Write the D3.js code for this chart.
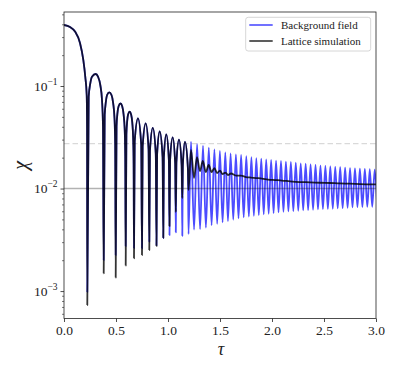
<!DOCTYPE html>
<html><head><meta charset="utf-8">
<script src="https://cdn.jsdelivr.net/npm/d3@7"></script>
<style>body{margin:0;background:#fff}svg{display:block}text{font-family:"Liberation Serif","DejaVu Serif",serif;fill:#222}</style>
</head><body><svg id="c" width="397" height="370"></svg>
<script>
// ---- data ----
const xTicks = [0, 0.5, 1.0, 1.5, 2.0, 2.5, 3.0];
const yMajorTicks = [1e-3, 1e-2, 1e-1];
const yMinorTicks = [6e-4,7e-4,8e-4,9e-4,2e-3,3e-3,4e-3,5e-3,6e-3,7e-3,8e-3,9e-3,2e-2,3e-2,4e-2,5e-2,6e-2,7e-2,8e-2,9e-2,2e-1,3e-1,4e-1,5e-1];
const seriesNames = ["Background field", "Lattice simulation"];
const refSolid = 1e-2;
const refDashed = 0.0274;

// early part, common to both series (start, arch shoulders, peaks)
const earlyTau = [0,0.0577,0.1058,0.1538,0.1856,0.2048,0.2183,0.2221,
0.2375,0.2529,0.2692,0.3048,0.3269,0.3490,0.3654,0.3750,
0.3913,0.4029,0.4144,0.4356,0.4567,0.4731,0.4856,0.4923,
0.5053,0.5144,0.5250,0.5433,0.5596,0.5731,0.5837,0.5889,
0.6000,0.6077,0.6163,0.6317,0.6452,0.6567,0.6648,0.6697,
0.6798,0.7115,0.7423, 0.7563,0.7856,0.8132, 0.8264,0.8538,0.8825,
0.8952,0.9202,0.9481, 0.9602,0.9837,1.0085, 1.0199,1.0452,1.0689,
1.0808,1.1058,1.1313, 1.1429,1.1635,1.1912];
const earlyChi = [0.3937,0.3764,0.3401,0.2627,0.1794,0.1224,0.0817,0.0372,
0.0786,0.1063,0.1232,0.1310,0.1232,0.1023,0.0730,0.0401,
0.0521,0.0705,0.0817,0.0868,0.0817,0.0678,0.0484,0.02657,
0.0405,0.0548,0.0635,0.0675,0.0635,0.0527,0.0376,0.02066,
0.0337,0.0456,0.0528,0.0562,0.0528,0.0439,0.0313,0.01718,
0.02887,0.04842,0.0270, 0.0258,0.04326,0.02413, 0.02332,0.0391,0.0218,
0.02146,0.03598,0.02006, 0.02006,0.03364,0.01876, 0.01884,0.03159,0.01762,
0.01785,0.02993,0.01669, 0.01703,0.02855,0.01592];

// early troughs
const troughTau = [0.2240,0.3817,0.4971,0.5933,0.6731,0.7500,0.8202,0.8894,0.9548,1.0144,1.0750,1.1375,1.1971];
const blackTroughChi = [0.00073,0.001488,0.001354,0.001773,0.002084,0.002245,0.002512,0.002748,0.003311,0.004307,0.005897,0.008078,0.009669];
const blueTroughChi = [0.00098,0.002006,0.002245,0.002748,0.002627,0.00261,0.003027,0.0028,0.00329,0.003518,0.003738,0.003464,0.003598];

// background field, late oscillation: peaks and troughs
const bluePeakTau = [1.2212,1.2798,1.3365,1.3923,1.4462,1.4990,1.5510,1.6019,1.6529,1.7029,1.7529,1.8019,1.8493,1.8967,1.9442,1.9916,2.0390,2.0864,2.1338,2.1813,2.2287,2.2762,2.3236,2.3710,2.4185,2.4659,2.5133,2.5607,2.6081,2.6556,2.7030,2.7504,2.7978,2.8452,2.8927,2.9401,2.9875];
const bluePeakChi = [0.02862,0.02718,0.02616,0.0250,0.02413,0.02322,0.02255,0.02205,0.02157,0.02123,0.02075,0.02029,0.01984,0.01953,0.01927,0.01897,0.01867,0.01855,0.01826,0.01814,0.01785,0.01762,0.01746,0.01722,0.01696,0.01673,0.01658,0.01643,0.01628,0.01614,0.01599,0.01585,0.01574,0.01564,0.01553,0.01543,0.01532];
const blueValleyTau = [1.2505,1.3082,1.3644,1.4192,1.4726,1.5250,1.5765,1.6274,1.6779,1.7279,1.7774,1.8256,1.8730,1.9205,1.9679,2.0153,2.0627,2.1101,2.1576,2.2050,2.2524,2.2999,2.3473,2.3947,2.4422,2.4896,2.5370,2.5844,2.6318,2.6793,2.7267,2.7741,2.8215,2.8690,2.9164,2.9638,3.0112];
const blueValleyChi = [0.003981,0.004026,0.004164,0.004404,0.004524,0.004679,0.004818,0.004961,0.005121,0.005236,0.00532,0.005428,0.005515,0.005602,0.005677,0.005768,0.005859,0.005939,0.005993,0.006033,0.006074,0.006129,0.00617,0.006212,0.006268,0.00631,0.006324,0.006352,0.00641,0.006452,0.006496,0.006554,0.006584,0.006599,0.00663,0.006645,0.00666];

// lattice simulation, late part
const blackLateTau = [1.2212,1.25,1.2788,1.3077,1.3346,1.3635,1.3913,1.4183,1.4462,1.4712,1.5,1.524,1.5529,1.5769,1.6058,1.6538,1.7019,1.75,1.7981,1.8462,1.9038,1.9615,2.0288,2.0962,2.1731,2.2692,2.3654,2.4615,2.5577,2.6538,2.75,2.8462,3.0];
const blackLateChi = [0.02375,0.01266,0.02029,0.01482,0.01855,0.01449,0.01696,0.01449,0.01585,0.01416,0.01498,0.01385,0.01432,0.01354,0.01401,0.01339,0.01339,0.01295,0.0128,0.01266,0.01252,0.01224,0.0121,0.01197,0.01175,0.01157,0.0115,0.01139,0.01132,0.01121,0.01116,0.01106,0.01099];

// ---- build tables ----
function zip(t, c){ return t.map((v,i)=>({t:v, c:c[i]})); }
const early = zip(earlyTau, earlyChi);
const blueData = early.concat(zip(troughTau, blueTroughChi), zip(bluePeakTau, bluePeakChi), zip(blueValleyTau, blueValleyChi)).sort((a,b)=>a.t-b.t);
const blackData = early.concat(zip(troughTau, blackTroughChi), zip(blackLateTau, blackLateChi)).sort((a,b)=>a.t-b.t);

// ---- chart ----
const svg = d3.select("#c");
const m = {l:64, r:376, t:12, b:318.5};
const x = d3.scaleLinear().domain([0,3]).range([m.l, m.r]);
const y = d3.scaleLog().domain([5.4e-4, 0.527]).range([m.b, m.t]);

svg.append("defs").append("clipPath").attr("id","clip")
  .append("rect").attr("x",m.l).attr("y",m.t).attr("width",m.r-m.l).attr("height",m.b-m.t);

const line = d3.line().x(d=>x(d.t)).y(d=>y(d.c)).curve(d3.curveMonotoneX);
const plot = svg.append("g").attr("clip-path","url(#clip)");

plot.append("path").datum(blueData).attr("d",line)
  .attr("fill","none").attr("stroke","#0000ff").attr("stroke-opacity",0.7).attr("stroke-width",1.8).attr("stroke-linejoin","round");
plot.append("path").datum(blackData).attr("d",line)
  .attr("fill","none").attr("stroke","#000").attr("stroke-opacity",0.8).attr("stroke-width",1.8).attr("stroke-linejoin","round");

plot.append("line").attr("x1",m.l).attr("x2",m.r).attr("y1",y(refSolid)).attr("y2",y(refSolid))
  .attr("stroke","#000").attr("stroke-opacity",0.3).attr("stroke-width",1.4);
plot.append("line").attr("x1",m.l).attr("x2",m.r).attr("y1",y(refDashed)).attr("y2",y(refDashed))
  .attr("stroke","#000").attr("stroke-opacity",0.15).attr("stroke-width",1.4).attr("stroke-dasharray","5.5,3");

// axes
const fs = 13.5;
const xa = svg.append("g").attr("transform",`translate(0,${m.b})`)
  .call(d3.axisBottom(x).tickValues(xTicks).tickFormat(d3.format(".1f")).tickSize(3.5).tickPadding(3));
xa.select(".domain").remove();
xa.selectAll("text").attr("font-size",fs).style("font-family",'"Liberation Serif",serif').attr("fill","#222");
xa.selectAll("line").attr("stroke","#222").attr("stroke-width",0.8);

const ya = svg.append("g").attr("transform",`translate(${m.l},0)`)
  .call(d3.axisLeft(y).tickValues(yMajorTicks).tickSize(3.5).tickPadding(3).tickFormat(()=>""));
ya.select(".domain").remove();
ya.selectAll("line").attr("stroke","#222").attr("stroke-width",0.8);
ya.selectAll(".tick text").each(function(d){
  const t = d3.select(this).attr("font-size",fs).style("font-family",'"Liberation Serif",serif').attr("fill","#222");
  t.append("tspan").text("10");
  t.append("tspan").attr("dy",-6).attr("font-size",9.5).text("\u2212"+Math.round(-Math.log10(d)));
});
const ym = svg.append("g").attr("transform",`translate(${m.l},0)`)
  .call(d3.axisLeft(y).tickValues(yMinorTicks).tickSize(2).tickFormat(()=>""));
ym.select(".domain").remove();
ym.selectAll("line").attr("stroke","#222").attr("stroke-width",0.6);

// frame
svg.append("rect").attr("x",m.l).attr("y",m.t).attr("width",m.r-m.l).attr("height",m.b-m.t)
  .attr("fill","none").attr("stroke","#222").attr("stroke-width",0.8);

// axis labels
svg.append("text").attr("x",(m.l+m.r)/2 + 1).attr("y",355).attr("text-anchor","middle")
  .attr("font-size",18).attr("font-style","italic").text("\u03C4");
svg.append("text").attr("transform",`translate(27,${(m.t+m.b)/2}) rotate(-90)`).attr("text-anchor","middle")
  .attr("font-size",20).attr("font-style","italic").text("\u03C7");

// legend
const lg = svg.append("g");
lg.append("rect").attr("x",245.7).attr("y",17.3).attr("width",125).attr("height",33.7).attr("rx",2.5)
  .attr("fill","#fff").attr("fill-opacity",0.8).attr("stroke","#ccc").attr("stroke-width",0.8);
const lcol = [["#0000ff",0.7],["#000",0.8]];
seriesNames.forEach((n,i)=>{
  const yy = 25 + i*16;
  lg.append("line").attr("x1",249.3).attr("x2",272.7).attr("y1",yy).attr("y2",yy)
    .attr("stroke",lcol[i][0]).attr("stroke-opacity",lcol[i][1]).attr("stroke-width",1.6);
  lg.append("text").attr("x",281).attr("y",yy+4).attr("font-size",11).text(n);
});
</script></body></html>
